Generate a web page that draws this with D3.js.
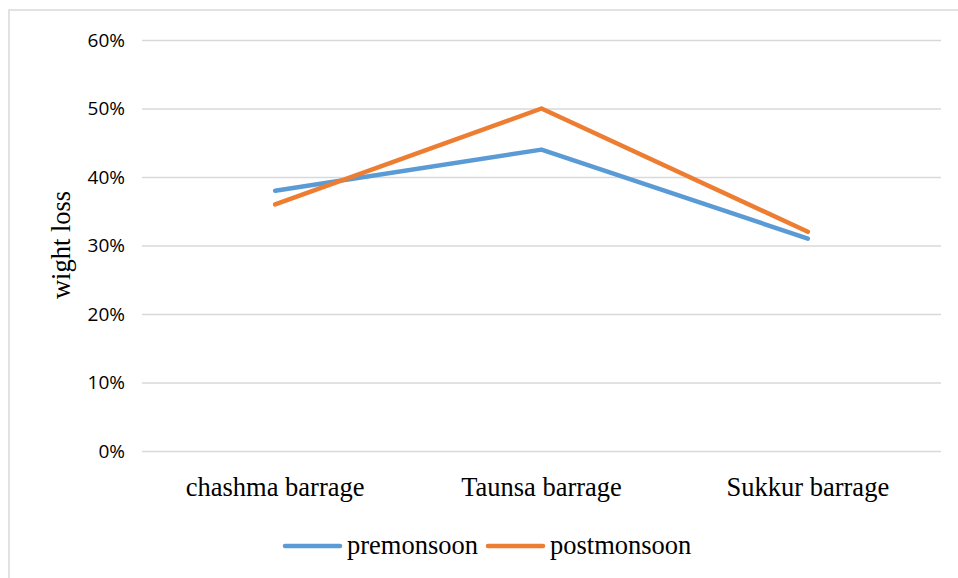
<!DOCTYPE html>
<html>
<head>
<meta charset="utf-8">
<script src="https://cdn.jsdelivr.net/npm/d3@7"></script>
<style>
  html, body { margin: 0; padding: 0; background: #fff; }
  svg { display: block; }
</style>
</head>
<body>
<svg id="chart" width="958" height="578"></svg>
<script>
const categories = ["chashma barrage", "Taunsa barrage", "Sukkur barrage"];
const premonsoon = [0.38, 0.44, 0.31];
const postmonsoon = [0.36, 0.50, 0.32];
const yTicks = [0, 0.1, 0.2, 0.3, 0.4, 0.5, 0.6];
const seriesNames = ["premonsoon", "postmonsoon"];
const seriesColors = ["#5B9BD5", "#ED7D31"];

const serif = "'Liberation Serif', 'Times New Roman', serif";
const sans = "'Open Sans', 'Noto Sans', sans-serif";

const svg = d3.select("#chart");

// outer frame
svg.append("rect")
  .attr("x", 9).attr("y", 10)
  .attr("width", 960).attr("height", 580)
  .attr("fill", "none").attr("stroke", "#d9d9d9").attr("stroke-width", 1.5);

const plot = { left: 142, right: 941, top: 40, bottom: 451 };

const x = d3.scaleBand().domain(categories).range([plot.left, plot.right]);
const y = d3.scaleLinear().domain([0, 0.6]).range([plot.bottom, plot.top]);

// gridlines + y labels
const yAxis = d3.axisLeft(y).tickValues(yTicks).tickFormat(d3.format(".0%"))
  .tickSize(-(plot.right - plot.left)).tickPadding(17);
const gy = svg.append("g").attr("transform", `translate(${plot.left},0)`).call(yAxis);
gy.select(".domain").remove();
gy.selectAll(".tick line").attr("stroke", "#d9d9d9").attr("stroke-width", 1.3);
gy.selectAll(".tick text")
  .attr("font-family", sans)
  .attr("font-size", 19).attr("fill", "#000");

// x labels
const xAxis = d3.axisBottom(x).tickSize(0).tickPadding(26);
const gx = svg.append("g").attr("transform", `translate(0,${plot.bottom})`).call(xAxis);
gx.select(".domain").remove();
gx.selectAll(".tick text")
  .attr("font-family", serif)
  .attr("font-size", 26.5).attr("fill", "#000");

// y axis title
svg.append("text")
  .attr("transform", `translate(70,245) rotate(-90)`)
  .attr("text-anchor", "middle")
  .attr("font-family", serif)
  .attr("font-size", 26.5).attr("fill", "#000")
  .text("wight loss");

// series lines
const line = d3.line()
  .x((d, i) => x(categories[i]) + x.bandwidth() / 2)
  .y(d => y(d));

[premonsoon, postmonsoon].forEach((vals, i) => {
  svg.append("path")
    .datum(vals)
    .attr("d", line)
    .attr("fill", "none")
    .attr("stroke", seriesColors[i])
    .attr("stroke-width", 4.5)
    .attr("stroke-linecap", "round")
    .attr("stroke-linejoin", "round");
});

// legend
const legend = svg.append("g").attr("transform", "translate(0,546)");
const legendX = [285, 488];
seriesNames.forEach((name, i) => {
  const g = legend.append("g").attr("transform", `translate(${legendX[i]},0)`);
  g.append("line").attr("x1", 0).attr("x2", 55).attr("y1", 0).attr("y2", 0)
    .attr("stroke", seriesColors[i]).attr("stroke-width", 4.5).attr("stroke-linecap", "round");
  g.append("text").attr("x", 62).attr("y", 8)
    .attr("font-family", serif)
    .attr("font-size", 26.5).attr("fill", "#000")
    .text(name);
});
</script>
</body>
</html>
